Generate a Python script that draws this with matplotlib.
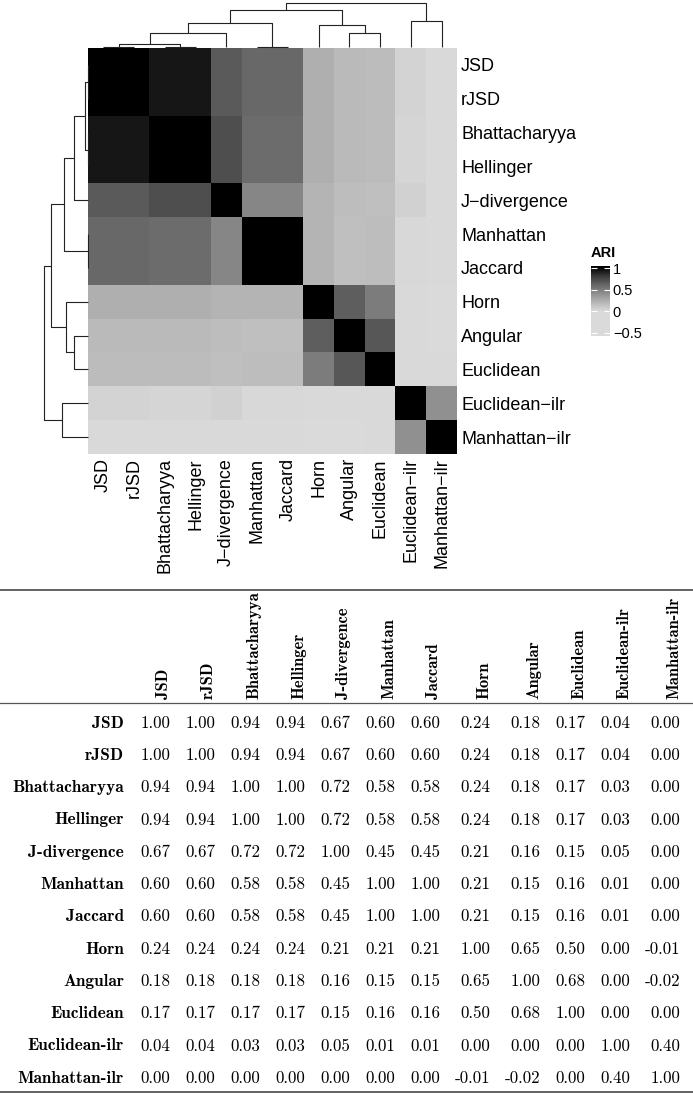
import numpy as np
import matplotlib
matplotlib.use("Agg")
import matplotlib.pyplot as plt
from matplotlib.colors import ListedColormap, Normalize
from matplotlib.cm import ScalarMappable

# metric names, in dendrogram order
metrics = ["JSD", "rJSD", "Bhattacharyya", "Hellinger", "J-divergence", "Manhattan",
           "Jaccard", "Horn", "Angular", "Euclidean", "Euclidean-ilr", "Manhattan-ilr"]

# pairwise ARI
ari = np.array([
    [1.00, 1.00, 0.94, 0.94, 0.67, 0.60, 0.60, 0.24, 0.18, 0.17, 0.04, 0.00],
    [1.00, 1.00, 0.94, 0.94, 0.67, 0.60, 0.60, 0.24, 0.18, 0.17, 0.04, 0.00],
    [0.94, 0.94, 1.00, 1.00, 0.72, 0.58, 0.58, 0.24, 0.18, 0.17, 0.03, 0.00],
    [0.94, 0.94, 1.00, 1.00, 0.72, 0.58, 0.58, 0.24, 0.18, 0.17, 0.03, 0.00],
    [0.67, 0.67, 0.72, 0.72, 1.00, 0.45, 0.45, 0.21, 0.16, 0.15, 0.05, 0.00],
    [0.60, 0.60, 0.58, 0.58, 0.45, 1.00, 1.00, 0.21, 0.15, 0.16, 0.01, 0.00],
    [0.60, 0.60, 0.58, 0.58, 0.45, 1.00, 1.00, 0.21, 0.15, 0.16, 0.01, 0.00],
    [0.24, 0.24, 0.24, 0.24, 0.21, 0.21, 0.21, 1.00, 0.65, 0.50, 0.00, -0.01],
    [0.18, 0.18, 0.18, 0.18, 0.16, 0.15, 0.15, 0.65, 1.00, 0.68, 0.00, -0.02],
    [0.17, 0.17, 0.17, 0.17, 0.15, 0.16, 0.16, 0.50, 0.68, 1.00, 0.00, 0.00],
    [0.04, 0.04, 0.03, 0.03, 0.05, 0.01, 0.01, 0.00, 0.00, 0.00, 1.00, 0.40],
    [0.00, 0.00, 0.00, 0.00, 0.00, 0.00, 0.00, -0.01, -0.02, 0.00, 0.40, 1.00],
])

cbar_ticks = [-0.5, 0, 0.5, 1]
cbar_labels = ["\u22120.5", "0", "0.5", "1"]

n = len(metrics)
W, H = 693, 1100
fig = plt.figure(figsize=(W / 100, H / 100), dpi=100)


def px_axes(x0, y0, x1, y1):
    # axes from pixel box (top-left origin)
    return fig.add_axes([x0 / W, 1 - y1 / H, (x1 - x0) / W, (y1 - y0) / H])


# colour scale: light grey -> black
vmin, vmax = -0.57, 1.05
grid = np.linspace(vmin, vmax, 256)
g = 218 * np.clip(1 - grid, 0, 1) ** 0.8 / 255
cmap = ListedColormap(np.column_stack([g, g, g]))
norm = Normalize(vmin, vmax)

# complete linkage on 1 - ARI
dist = 1 - ari
clusters = {i: [i] for i in range(n)}
pos = {i: (i + 0.5, 0.0) for i in range(n)}
merges = []
next_id = n
while len(clusters) > 1:
    keys = list(clusters)
    best = None
    for a in range(len(keys)):
        for b in range(a + 1, len(keys)):
            d = dist[np.ix_(clusters[keys[a]], clusters[keys[b]])].max()
            if best is None or d < best[0] - 1e-9:
                best = (d, keys[a], keys[b])
    d, ka, kb = best
    xa, ha = pos[ka]
    xb, hb = pos[kb]
    merges.append((xa, ha, xb, hb, d))
    pos[next_id] = ((xa + xb) / 2, d)
    clusters[next_id] = clusters.pop(ka) + clusters.pop(kb)
    next_id += 1
top_h = max(m[4] for m in merges)

# heatmap
ax = px_axes(88, 48, 457, 454)
ax.imshow(ari, cmap=cmap, norm=norm, extent=(0, n, n, 0), aspect="auto",
          interpolation="nearest")
ax.set_xticks(np.arange(n) + 0.5)
ax.set_yticks(np.arange(n) + 0.5)
lab = [m.replace("-", "\u2212") for m in metrics]
ax.set_xticklabels(lab, rotation=90, fontsize=13, family="Liberation Sans", va="top")
ax.set_yticklabels(lab, fontsize=13, family="Liberation Sans")
ax.yaxis.tick_right()
ax.tick_params(length=0, pad=3)
for s in ax.spines.values():
    s.set_visible(False)

# top dendrogram
axt = px_axes(88, 3, 457, 47)
for xa, ha, xb, hb, d in merges:
    axt.plot([xa, xa, xb, xb], [ha, d, d, hb], color="#222222", lw=0.8,
             solid_capstyle="butt", clip_on=False)
axt.set_xlim(0, n)
axt.set_ylim(0, top_h)
axt.axis("off")

# left dendrogram
axl = px_axes(44, 48, 88, 454)
for xa, ha, xb, hb, d in merges:
    axl.plot([ha, d, d, hb], [xa, xa, xb, xb], color="#222222", lw=0.8,
             solid_capstyle="butt", clip_on=False)
axl.set_ylim(n, 0)
axl.set_xlim(top_h, 0)
axl.axis("off")

# colour bar
axc = px_axes(591, 266, 610, 336)
cb = fig.colorbar(ScalarMappable(norm=norm, cmap=cmap), cax=axc, ticks=cbar_ticks)
cb.outline.set_visible(False)
cb.ax.set_yticklabels(cbar_labels, fontsize=10.5, family="Liberation Sans")
cb.ax.tick_params(direction="in", color="white", length=4, width=0.8, pad=2,
                  left=True)
fig.text(591 / W, 1 - 253 / H, "ARI", fontsize=10.5, fontweight="bold",
         family="Liberation Sans", va="center", ha="left")

# table below
axb = fig.add_axes([0, 0, 1, 1])
axb.set_xlim(0, W)
axb.set_ylim(H, 0)
axb.axis("off")

neg_cols = (ari < 0).any(axis=0)
right = []
x = 170
for j in range(n):
    if j > 0:
        x += 45 + (5 if neg_cols[j] else 0)
    right.append(x)

axb.plot([0, W], [590, 590], color="#555555", lw=1.3)
axb.plot([0, W], [703, 703], color="#555555", lw=0.9)
axb.plot([0, W], [1092, 1092], color="#555555", lw=1.3)

for j, m in enumerate(metrics):
    axb.text(right[j] + 1, 699, m, rotation=90, ha="right", va="bottom",
             family="cmb10", fontsize=11.9)

row_y = 723
for i, m in enumerate(metrics):
    y = row_y + i * 32.3
    axb.text(124, y, m, ha="right", va="center", family="cmb10", fontsize=12.4)
    for j in range(n):
        axb.text(right[j], y, f"{ari[i, j]:.2f}", ha="right", va="center",
                 family="cmr10", fontsize=12.2)

fig.savefig("out.png", dpi=100)
